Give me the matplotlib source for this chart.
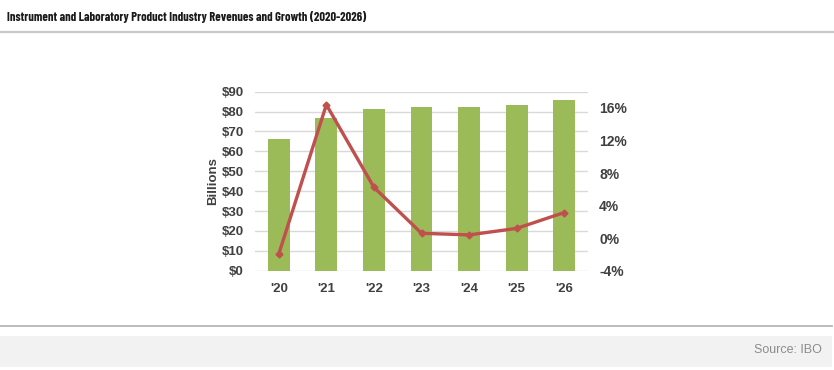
import matplotlib
matplotlib.use("Agg")
import matplotlib.pyplot as plt
from matplotlib.lines import Line2D
from matplotlib.patches import Rectangle

# data
years = ["'20", "'21", "'22", "'23", "'24", "'25", "'26"]
revenue = [66.0, 76.6, 81.4, 82.1, 82.1, 83.5, 85.8]      # $ billions
growth = [-1.95, 16.4, 6.25, 0.6, 0.4, 1.2, 3.15]          # percent
rev_ticks = [0, 10, 20, 30, 40, 50, 60, 70, 80, 90]
growth_ticks = [-4, 0, 4, 8, 12, 16]

plt.rcParams['font.family'] = ['Liberation Sans', 'DejaVu Sans']

W, H = 834, 370
fig = plt.figure(figsize=(W / 100, H / 100), dpi=100)
fig.patch.set_facecolor('white')

# title + separators
fig.text(7 / W, 1 - 17 / H, "Instrument and Laboratory Product Industry Revenues and Growth (2020-2026)",
         fontsize=9, fontweight='bold', color='#1a1a1a', va='center', ha='left',
         family=['Barlow Condensed', 'Liberation Sans'])
fig.add_artist(Line2D([0, 1], [1 - 32 / H] * 2, color='#c8c8c8', lw=1.6, transform=fig.transFigure))
fig.add_artist(Line2D([0, 832 / W], [1 - 326 / H] * 2, color='#b0b0b0', lw=1.2, transform=fig.transFigure))
fig.add_artist(Rectangle((0, 1 - 367 / H), 832 / W, 31 / H, facecolor='#f2f2f2', edgecolor='none',
                         transform=fig.transFigure))
fig.text(822 / W, 1 - 350 / H, "Source: IBO", fontsize=9, color='#8c8c8c', ha='right', va='center')

ax = fig.add_axes([255 / W, 1 - 270.7 / H, 333 / W, 179 / H])
x = range(len(years))
ax.bar(x, revenue, width=0.46, color='#9bbb59', zorder=2)
ax.set_xlim(-0.5, len(years) - 0.5)
ax.set_ylim(0, 90)
ax.set_yticks(rev_ticks)
ax.set_yticklabels(['$%d' % v for v in rev_ticks])
ax.set_xticks(list(x))
ax.set_xticklabels(years)
ax.grid(axis='y', color='#d9d9d9', lw=1, zorder=0)
ax.set_axisbelow(True)
for s in ax.spines.values():
    s.set_visible(False)
ax.tick_params(length=0, labelsize=9.5, labelcolor='#404040')
ax.tick_params(axis='x', pad=9)
ax.tick_params(axis='y', pad=8)
for lab in ax.get_xticklabels() + ax.get_yticklabels():
    lab.set_fontweight('bold')
ax.set_ylabel('Billions', fontsize=9.5, color='#404040', fontweight='bold', labelpad=2)

ax2 = ax.twinx()
ax2.plot(x, growth, color='#c0504d', lw=2.4, marker='D', markersize=3.5, zorder=3)
ax2.set_ylim(-4, 18)
ax2.set_yticks(growth_ticks)
ax2.set_yticklabels(['%d%%' % v for v in growth_ticks])
for s in ax2.spines.values():
    s.set_visible(False)
ax2.tick_params(length=0, labelsize=10, labelcolor='#404040', pad=8)
for lab in ax2.get_yticklabels():
    lab.set_fontweight('bold')

fig.savefig('out.png', dpi=100)
